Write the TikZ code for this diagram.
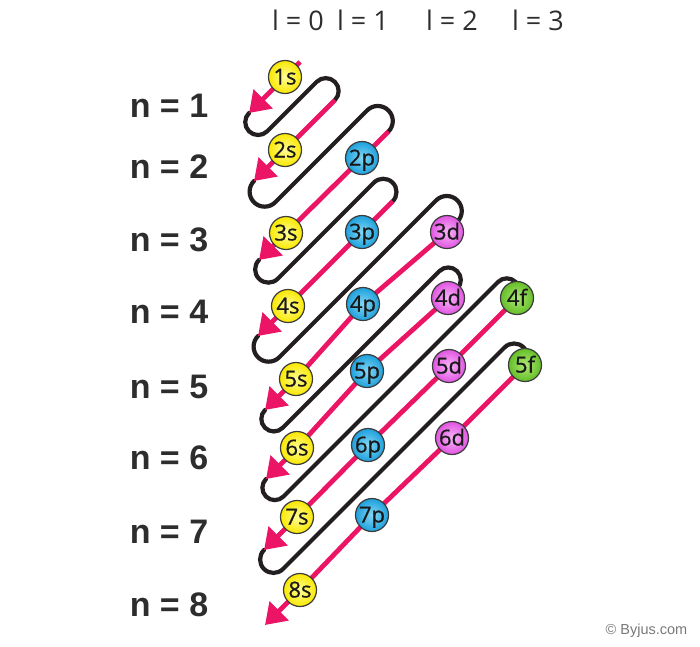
\documentclass[tikz,border=0pt]{standalone}
\usepackage{fontspec}
\setmainfont{Liberation Sans}
\newfontfamily\orbfont{Open Sans}[FakeBold=0.7]
\newfontfamily\headfont{Open Sans}
\usetikzlibrary{arrows.meta,calc}
\definecolor{pinkline}{RGB}{236,20,100}
\definecolor{blackline}{RGB}{35,31,32}
\definecolor{orbborder}{RGB}{60,60,60}
\definecolor{orbtext}{RGB}{25,25,25}
\definecolor{labeltext}{RGB}{45,45,45}
\definecolor{ysin}{RGB}{255,252,150}
\definecolor{ysout}{RGB}{250,232,0}
\definecolor{bpin}{RGB}{130,215,245}
\definecolor{bpout}{RGB}{30,160,220}
\definecolor{mdin}{RGB}{248,180,248}
\definecolor{mdout}{RGB}{225,85,225}
\definecolor{gfin}{RGB}{175,232,115}
\definecolor{gfout}{RGB}{100,190,40}
\begin{document}
\begin{tikzpicture}[x=1pt,y=-1pt,
  serp/.style={draw=blackline,line width=4.2pt,line cap=round},
  diag/.style={draw=pinkline,line width=4.8pt,-{Triangle[length=20pt,width=26pt]}},
  orb/.style={circle,draw=orbborder,line width=1.2pt,minimum size=33pt,inner sep=0pt,
    font=\orbfont\fontsize{22}{22}\selectfont,text=orbtext,text height=15pt,text depth=0pt},
  sorb/.style={orb,shading=radial,inner color=ysin,outer color=ysout},
  porb/.style={orb,shading=radial,inner color=bpin,outer color=bpout},
  dorb/.style={orb,shading=radial,inner color=mdin,outer color=mdout},
  forb/.style={orb,shading=radial,inner color=gfin,outer color=gfout},
  nlab/.style={font=\bfseries\fontsize{34}{40}\selectfont,text=labeltext},
  llab/.style={font=\headfont\fontsize{27}{30}\selectfont,text=labeltext},
]
\useasboundingbox (0,0) rectangle (700,646);

% orbital centres
\coordinate (c1s) at (285,77);
\coordinate (c2s) at (285,150);
\coordinate (c2p) at (362,158);
\coordinate (c3s) at (286,233);
\coordinate (c3p) at (362,232);
\coordinate (c3d) at (447,232);
\coordinate (c4s) at (288,306);
\coordinate (c4p) at (363,304);
\coordinate (c4d) at (448,298);
\coordinate (c4f) at (517,298);
\coordinate (c5s) at (296,379);
\coordinate (c5p) at (367,371);
\coordinate (c5d) at (449,366);
\coordinate (c5f) at (525,365);
\coordinate (c6s) at (297,448);
\coordinate (c6p) at (368,445);
\coordinate (c6d) at (452,438);
\coordinate (c7s) at (297,517);
\coordinate (c7p) at (372,515);
\coordinate (c8s) at (300,590);

% arrow tips
\coordinate (p1) at (249,113);
\coordinate (p2) at (254,181);
\coordinate (p3) at (259,260);
\coordinate (p4) at (258,336);
\coordinate (p5) at (265,410);
\coordinate (p6) at (266,479);
\coordinate (p7) at (264,550);
\coordinate (p8) at (265,625);

% top turn centres
\coordinate (t1) at (325.75,91);
\coordinate (t2) at (377.75,121);
\coordinate (t3) at (383.25,192);
\coordinate (t4) at (446.75,211);
\coordinate (t5) at (448.25,280);
\coordinate (t6) at (506.8,290.7);
\coordinate (t7) at (514.1,356.9);

\coordinate (d1start) at (300,62);

% black serpentine
\draw[serp] (p1) arc[start angle=225,end angle=45,radius=12.9] -- ($(t1)+(225:12.9)$) arc[start angle=225,end angle=405,radius=12.9];
\draw[serp] (p2) arc[start angle=225,end angle=45,radius=15.03] -- ($(t2)+(225:15.03)$) arc[start angle=225,end angle=405,radius=15.03];
\draw[serp] (p3) arc[start angle=225,end angle=45,radius=13.26] -- ($(t3)+(225:13.26)$) arc[start angle=225,end angle=405,radius=13.26];
\draw[serp] (p4) arc[start angle=225,end angle=45,radius=15.03] -- ($(t4)+(225:15.03)$) arc[start angle=225,end angle=405,radius=15.03];
\draw[serp] (p5) arc[start angle=225,end angle=45,radius=12.55] -- ($(t5)+(225:12.55)$) arc[start angle=225,end angle=405,radius=12.55];
\draw[serp] (p6) arc[start angle=225,end angle=45,radius=12.37] -- ($(t6)+(225:12.37)$) arc[start angle=225,end angle=405,radius=12.37];
\draw[serp] (p7) arc[start angle=225,end angle=45,radius=13.43] -- ($(t7)+(225:13.43)$) arc[start angle=225,end angle=405,radius=13.43];

% pink diagonals
\draw[diag] (d1start) -- (c1s) -- (p1);
\draw[diag] ($(t1)+(45:12.9)$) -- (c2s) -- (p2);
\draw[diag] ($(t2)+(45:15.03)$) -- (c2p) -- (c3s) -- (p3);
\draw[diag] ($(t3)+(45:13.26)$) -- (c3p) -- (c4s) -- (p4);
\draw[diag] ($(t4)+(45:15.03)$) -- (c3d) -- (c4p) -- (c5s) -- (p5);
\draw[diag] ($(t5)+(45:12.55)$) -- (c4d) -- (c5p) -- (c6s) -- (p6);
\draw[diag] ($(t6)+(45:12.37)$) -- (c4f) -- (c5d) -- (c6p) -- (c7s) -- (p7);
\draw[diag] ($(t7)+(45:13.43)$) -- (c5f) -- (c6d) -- (c7p) -- (c8s) -- (p8);

% orbitals
\node[sorb] (o1s) at (c1s) {1s};
\node[sorb] (o2s) at (c2s) {2s};
\node[porb] (o2p) at (c2p) {2p};
\node[sorb] (o3s) at (c3s) {3s};
\node[porb] (o3p) at (c3p) {3p};
\node[dorb] (o3d) at (c3d) {3d};
\node[sorb] (o4s) at (c4s) {4s};
\node[porb] (o4p) at (c4p) {4p};
\node[dorb] (o4d) at (c4d) {4d};
\node[forb] (o4f) at (c4f) {4f};
\node[sorb] (o5s) at (c5s) {5s};
\node[porb] (o5p) at (c5p) {5p};
\node[dorb] (o5d) at (c5d) {5d};
\node[forb] (o5f) at (c5f) {5f};
\node[sorb] (o6s) at (c6s) {6s};
\node[porb] (o6p) at (c6p) {6p};
\node[dorb] (o6d) at (c6d) {6d};
\node[sorb] (o7s) at (c7s) {7s};
\node[porb] (o7p) at (c7p) {7p};
\node[sorb] (o8s) at (c8s) {8s};

% labels
\node[llab] (l0) at (298,20) {l = 0};
\node[llab] (l1) at (363,20) {l = 1};
\node[llab] (l2) at (452,20) {l = 2};
\node[llab] (l3) at (538,20) {l = 3};

\node[nlab] (n1) at (169,105.5) {n = 1};
\node[nlab] (n2) at (169,167) {n = 2};
\node[nlab] (n3) at (169,240) {n = 3};
\node[nlab] (n4) at (169,312) {n = 4};
\node[nlab] (n5) at (169,387) {n = 5};
\node[nlab] (n6) at (169,458) {n = 6};
\node[nlab] (n7) at (169,532) {n = 7};
\node[nlab] (n8) at (169,605) {n = 8};

\node[font=\fontsize{14.5}{16}\selectfont,text={rgb,255:red,120;green,120;blue,120}] (copy) at (646.5,631) {© Byjus.com};
\end{tikzpicture}
\end{document}
